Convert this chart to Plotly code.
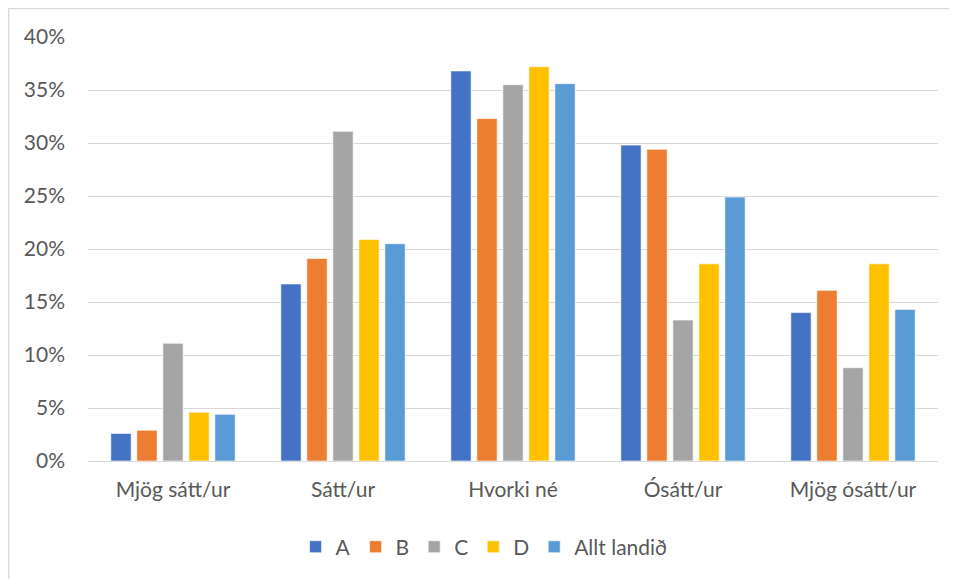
import plotly.graph_objects as go

categories = ["Mjög sátt/ur", "Sátt/ur", "Hvorki né", "Ósátt/ur", "Mjög ósátt/ur"]
series_names = ["A", "B", "C", "D", "Allt landið"]
values_A = [2.6, 16.7, 36.8, 29.8, 14.0]
values_B = [2.9, 19.1, 32.3, 29.4, 16.1]
values_C = [11.1, 31.1, 35.5, 13.3, 8.8]
values_D = [4.6, 20.9, 37.2, 18.6, 18.6]
values_E = [4.4, 20.5, 35.6, 24.9, 14.3]
colors = ["#4472C4", "#ED7D31", "#A5A5A5", "#FFC000", "#5B9BD5"]
tick_vals = [0, 5, 10, 15, 20, 25, 30, 35, 40]
tick_labels = ["0%", "5%", "10%", "15%", "20%", "25%", "30%", "35%", "40%"]

FONT = "Lato, 'Open Sans', sans-serif"
TXT = "#595959"

fig = go.Figure()
for name, vals, col in zip(series_names, [values_A, values_B, values_C, values_D, values_E], colors):
    fig.add_trace(go.Bar(
        x=categories, y=vals, name=name,
        marker=dict(color=col, line=dict(color="rgba(255,255,255,0.6)", width=1)),
    ))

fig.update_layout(
    width=949, height=571,
    margin=dict(l=80, r=19, t=29, b=118, autoexpand=False),
    paper_bgcolor="white", plot_bgcolor="white",
    barmode="group", bargap=0.235, bargroupgap=0.22,
    font=dict(family=FONT, size=21, color=TXT),
    showlegend=True,
    legend=dict(orientation="h", x=0.466, xanchor="center", y=-0.203, yanchor="middle",
                font=dict(family=FONT, size=21, color=TXT),
                traceorder="normal", itemwidth=30),
    xaxis=dict(showgrid=False, showline=True, linecolor="#D9D9D9", linewidth=1,
               ticks="", tickfont=dict(family=FONT, size=21, color=TXT), ticklabelstandoff=10),
    yaxis=dict(range=[0, 40], tickmode="array", tickvals=tick_vals, ticktext=tick_labels,
               showgrid=True, gridcolor="#D9D9D9", gridwidth=1, zeroline=False,
               showline=False, ticks="",
               tickfont=dict(family=FONT, size=21, color=TXT), ticklabelstandoff=22),
    shapes=[
        dict(type="line", xref="paper", yref="paper", x0=-0.0935, x1=-0.0935, y0=-0.3, y1=1.067,
             line=dict(color="#D9D9D9", width=1.5)),
        dict(type="line", xref="paper", yref="paper", x0=-0.0935, x1=1.03, y0=1.067, y1=1.067,
             line=dict(color="#D9D9D9", width=1.5)),
    ],
)

fig.write_html("out.html")
